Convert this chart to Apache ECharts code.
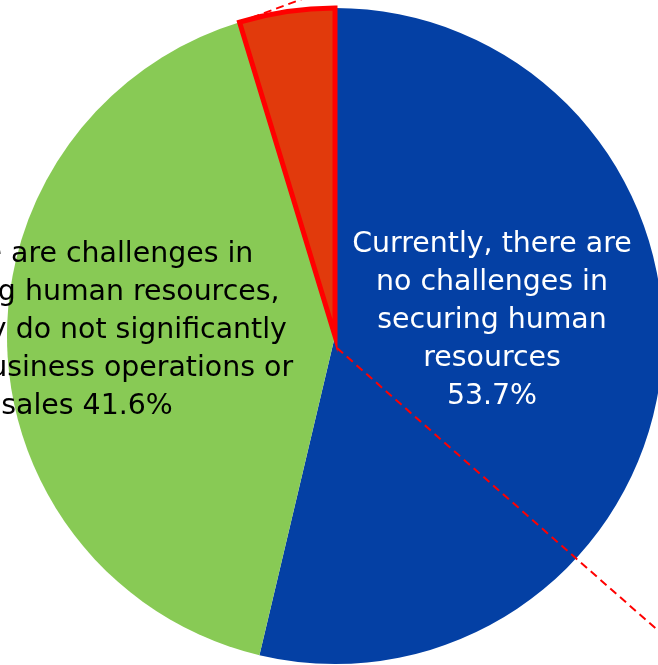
<!DOCTYPE html>
<html>
<head>
<meta charset="utf-8">
<script src="https://cdn.jsdelivr.net/npm/echarts@6/dist/echarts.min.js"></script>
<style>
  html, body { margin: 0; padding: 0; background: #fff; }
  #main { width: 658px; height: 665px; }
</style>
</head>
<body>
<div id="main"></div>
<script>
// categories and values
const categories = [
  'Currently, there are no challenges in securing human resources',
  'There are challenges in securing human resources, but they do not significantly affect business operations or sales',
  'There are challenges in securing human resources, and they significantly affect business operations or sales'
];
const values = [53.7, 41.6, 4.7];
// label text as shown (line breaks)
const labelLines = [
  'Currently, there are\nno challenges in\nsecuring human\nresources\n53.7%',
  'There are challenges in\nsecuring human resources,\nbut they do not significantly\naffect business operations or\nsales 41.6%',
  ''
];
const colors = ['#0440A4', '#88CA55', '#E13A0C'];
const labelColors = ['#ffffff', '#000000', '#000000'];

// pie geometry
const cx = 335, cy = 336, r = 328;

const chart = echarts.init(document.getElementById('main'));

// connector lines from the small slice (to a chart outside the picture)
const redStart = (values[0] + values[1]) / 100 * Math.PI * 2;
const cornerX = cx + r * Math.sin(redStart);
const cornerY = cy - r * Math.cos(redStart);
const dashStyle = { stroke: '#FF0000', lineWidth: 2, lineDash: [8, 5] };

chart.setOption({
  animation: false,
  series: [{
    type: 'pie',
    center: [cx, cy],
    radius: [0, r],
    startAngle: 90,
    clockwise: true,
    avoidLabelOverlap: false,
    silent: true,
    label: {
      show: true,
      position: 'inside',
      fontFamily: 'DejaVu Sans',
      fontSize: 28.4,
      lineHeight: 38,
      align: 'center',
      formatter: function (p) { return labelLines[p.dataIndex]; }
    },
    labelLine: { show: false },
    labelLayout: function (p) {
      if (p.dataIndex === 0) return { x: 492, y: 321, align: 'center', verticalAlign: 'middle' };
      if (p.dataIndex === 1) return { x: 87, y: 331, align: 'center', verticalAlign: 'middle' };
      return {};
    },
    data: values.map(function (v, i) {
      const item = {
        name: categories[i],
        value: v,
        itemStyle: { color: colors[i], borderWidth: 0 },
        label: { color: labelColors[i] }
      };
      if (i === 2) {
        item.itemStyle = { color: colors[i], borderColor: '#FF0000', borderWidth: 5, borderJoin: 'miter', borderMiterLimit: 20 };
        item.label = { show: false };
      }
      return item;
    })
  }],
  graphic: [
    {
      type: 'line',
      silent: true,
      z: 100,
      shape: { x1: cx + 2, y1: cy + 12, x2: cx + 2 + 360, y2: cy + 12 + 360 * 0.88 },
      style: dashStyle
    },
    {
      type: 'line',
      silent: true,
      z: 100,
      shape: { x1: cornerX, y1: cornerY, x2: cornerX + 80, y2: cornerY - 80 * 0.37 },
      style: dashStyle
    }
  ]
});
</script>
</body>
</html>
